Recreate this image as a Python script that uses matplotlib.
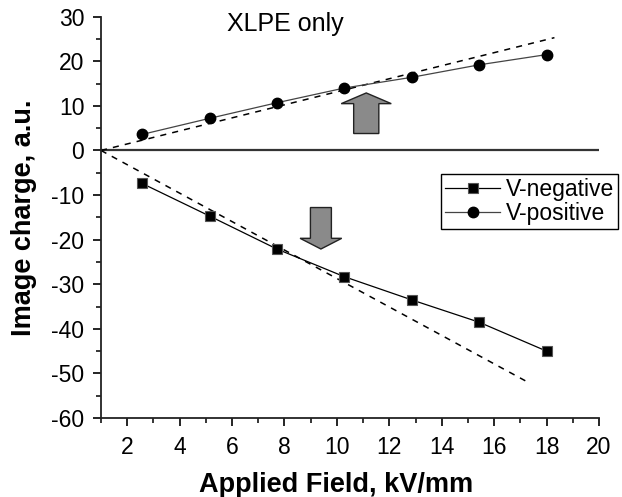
import matplotlib
matplotlib.use("Agg")
import matplotlib.pyplot as plt
from matplotlib.patches import FancyArrow
import numpy as np

plt.rcParams['font.family'] = ['Liberation Sans', 'DejaVu Sans']
plt.rcParams['axes.unicode_minus'] = False

# applied field (kV/mm) and measured image charge (a.u.)
field = [2.57, 5.14, 7.71, 10.28, 12.85, 15.42, 18.0]
v_negative = [-7.4, -14.7, -22.1, -28.3, -33.5, -38.5, -45.0]
v_positive = [3.6, 7.2, 10.7, 14.0, 16.4, 19.2, 21.5]

# linear extrapolations from the low-field points
fit_start = 1.0
pos_fit_end, pos_fit_top = 18.3, 25.3
neg_fit_end, neg_fit_bottom = 17.36, -52.2

fig = plt.figure(figsize=(6.22, 4.97), dpi=100)
ax = fig.add_axes([101/622, 1 - 418/497, 498/622, (418 - 16.7)/497])

ax.plot([fit_start, pos_fit_end], [0, pos_fit_top], ls=(0, (4, 4)), color='black', lw=1.1)
ax.plot([fit_start, neg_fit_end], [0, neg_fit_bottom], ls=(0, (4, 4)), color='black', lw=1.1)
ax.axhline(0, color='#333333', lw=1.6, zorder=1)

ax.plot(field, v_negative, color='black', lw=0.9, marker='s', ms=6.5,
        mfc='black', mec='#555555', mew=0.8, label='V-negative')
ax.plot(field, v_positive, color='#444444', lw=0.9, marker='o', ms=7.5,
        mfc='black', mec='black', label='V-positive')

# arrows pointing away from the extrapolated lines
ax.add_patch(FancyArrow(11.12, 3.8, 0, 9.1, width=0.96, head_width=1.91,
                        head_length=2.4, length_includes_head=True,
                        fc='#8a8a8a', ec='#222222', lw=1.0, zorder=3))
ax.add_patch(FancyArrow(9.39, -12.8, 0, -9.3, width=0.80, head_width=1.59,
                        head_length=2.4, length_includes_head=True,
                        fc='#8a8a8a', ec='#222222', lw=1.0, zorder=3))

ax.text(5.8, 26.8, 'XLPE only', fontsize=18, va='baseline', ha='left')

ax.set_xlim(1, 20)
ax.set_ylim(-60, 30)
ax.set_xticks(np.arange(2, 21, 2))
ax.set_xticks(np.arange(1, 20, 2), minor=True)
ax.set_yticks(np.arange(-60, 31, 10))
ax.set_yticks(np.arange(-55, 30, 10), minor=True)
ax.tick_params(which='major', direction='out', length=6, width=1.2, labelsize=16.5)
ax.tick_params(axis='x', which='major', pad=7)
ax.tick_params(axis='y', which='major', pad=6)
ax.tick_params(which='minor', direction='out', length=3.5, width=1.1)

for side in ['top', 'right']:
    ax.spines[side].set_visible(False)
for side in ['left', 'bottom']:
    ax.spines[side].set_linewidth(1.3)
    ax.spines[side].set_color('#222222')

ax.set_xlabel('Applied Field, kV/mm', fontsize=19.5, fontweight='bold', labelpad=8)
ax.xaxis.set_label_coords((336 - 101) / 498, -0.135)
ax.set_ylabel('Image charge, a.u.', fontsize=19.5, fontweight='bold', labelpad=10)

leg = ax.legend(loc='upper left', bbox_to_anchor=(441/622, 1 - 174/497),
                bbox_transform=fig.transFigure, borderaxespad=0,
                fontsize=16.5, handlelength=2.4, handletextpad=0.25,
                labelspacing=0.02, borderpad=0.18, fancybox=False,
                framealpha=1, edgecolor='black')
leg.get_frame().set_linewidth(1.0)

fig.savefig('out.png', dpi=100)
